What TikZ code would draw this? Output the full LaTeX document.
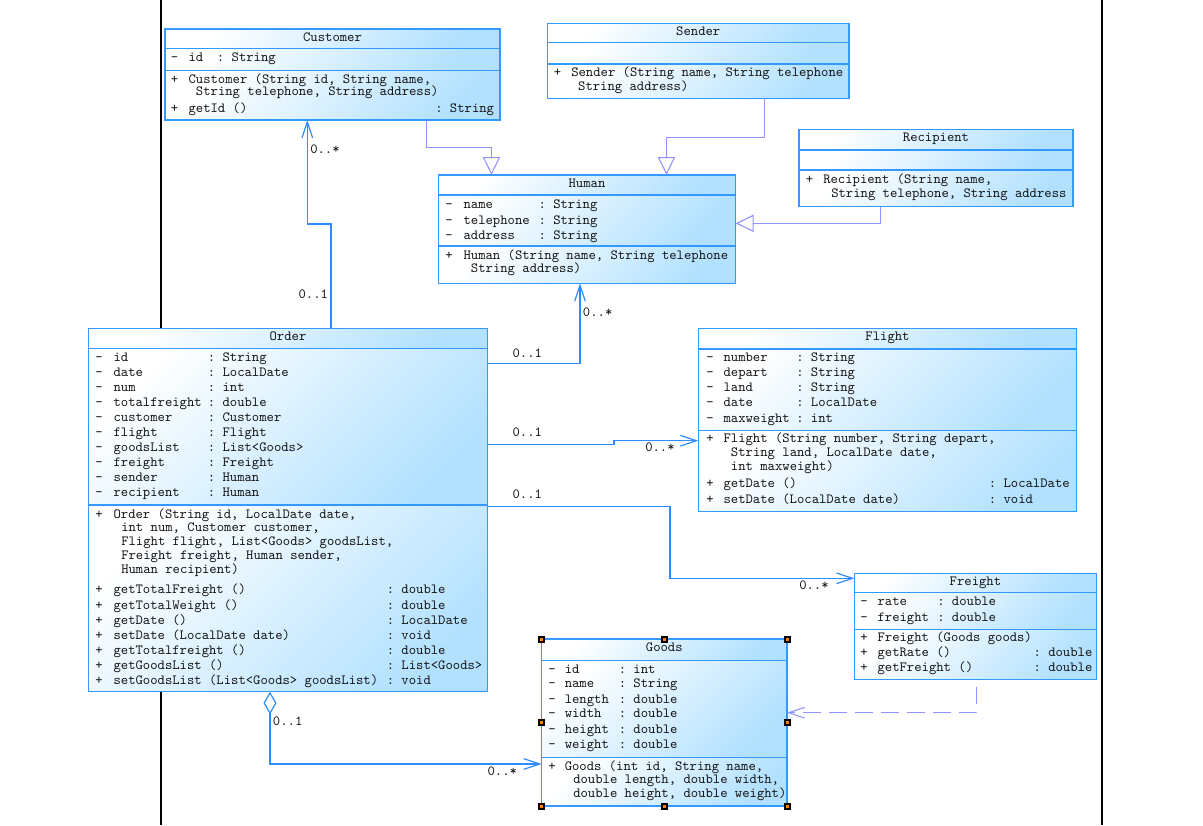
\documentclass[tikz,border=0pt]{standalone}
\usepackage{fontspec}
\usetikzlibrary{arrows.meta}
\definecolor{boxc}{RGB}{51,153,255}
\definecolor{boxfill}{RGB}{178,225,255}
\definecolor{assc}{RGB}{45,140,255}
\definecolor{genc}{RGB}{145,145,255}
\definecolor{txtc}{RGB}{20,20,20}
\definecolor{hdl}{RGB}{255,128,0}
\newcommand\mytt{\ttfamily\fontsize{10.5}{12}\selectfont\frenchspacing}
\newcounter{tn}
\newcommand\putt[3]{\stepcounter{tn}\node[txt, name=tx\arabic{tn}] at (#1,{#2+3.4}) {#3};}
\newcommand\mult[3]{\stepcounter{tn}\node[txt, name=ml\arabic{tn}] at (#1,{#2+3.4}) {#3};}
% name, x1, y1, x2, y2, sep1, sep2, title
\newcommand\umlclass[8]{%
  \shade[cshade] (#2,#3) rectangle (#4,#6);
  \shade[cshade] (#2,#6) rectangle (#4,#7);
  \shade[cshade] (#2,#7) rectangle (#4,#5);
  \draw[boxc, line width=1.1pt] (#2,#6) -- (#4,#6) (#2,#7) -- (#4,#7);
  \node[cls, minimum width={(#4-#2)*0.75pt}, minimum height={(#5-#3)*0.75pt}, name=#1] at (#2,#3) {};
  \node[ttl, name=#1-t] at ({(#2+#4)/2},{#3+9+3.4}) {#8};
}
\begin{document}
\begin{tikzpicture}[x=0.75pt,y=-0.75pt,
  txt/.style={font=\mytt, text=txtc, inner sep=0pt, anchor=base west},
  ttl/.style={font=\mytt, text=txtc, inner sep=0pt, anchor=base},
  cls/.style={draw=boxc, line width=1.1pt, inner sep=0pt, outer sep=0pt, anchor=north west},
  cshade/.style={top color=white, bottom color=boxfill, shading angle=45},
  assoc/.style={draw=assc, line width=0.9pt, -{Straight Barb[length=12pt,width=8pt]}},
  gen/.style={draw=genc, line width=0.8pt, -{Triangle[open,length=13.5pt,width=13pt]}},
  dep/.style={draw=genc, line width=0.8pt, dash pattern=on 13pt off 6.5pt, -{Straight Barb[length=12pt,width=8pt]}},
]
\fill[white] (0,0) rectangle (1203,825);
\useasboundingbox (0,0) rectangle (1203,825);
\draw[black, line width=1.1pt] (161,0) -- (161,825);
\draw[black, line width=1.1pt] (1102,0) -- (1102,825);

% ---------- classes ----------
\umlclass{customer}{165}{29}{500}{120}{48.5}{70.5}{Customer}
\putt{170.5}{58.3}{-}\putt{188.3}{58.3}{id}\putt{216.7}{58.3}{: String}
\putt{170.5}{80}{+}\putt{188.3}{80}{Customer (String id, String name,}
\putt{195.7}{91.7}{String telephone, String address)}
\putt{170.5}{109.3}{+}\putt{188.3}{109.3}{getId ()}\putt{435}{109.3}{: String}

\umlclass{sender}{547.6}{23.3}{848.9}{98.3}{42.7}{64}{Sender}
\putt{553.5}{73.3}{+}\putt{571}{73.3}{Sender (String name, String telephone}
\putt{577.9}{86.7}{String address)}

\umlclass{recipient}{799}{129.3}{1073}{206.7}{150}{170}{Recipient}
\putt{805.5}{180}{+}\putt{823}{180}{Recipient (String name,}
\putt{831}{194.3}{String telephone, String address}

\umlclass{human}{438.3}{175}{735.7}{283.3}{195}{246}{Human}
\putt{445}{205}{-}\putt{463.3}{205}{name}\putt{538.3}{205}{: String}
\putt{445}{220.7}{-}\putt{463.3}{220.7}{telephone}\putt{538.3}{220.7}{: String}
\putt{445}{235.7}{-}\putt{463.3}{235.7}{address}\putt{538.3}{235.7}{: String}
\putt{445}{256}{+}\putt{463.3}{256}{Human (String name, String telephone}
\putt{470.7}{269.3}{String address)}

\umlclass{order}{88.3}{328.3}{487.7}{691.7}{348.3}{505}{Order}
\foreach \yy/\nm/\ty in {358.3/id/String, 373.3/date/LocalDate, 388.3/num/int,
  403.3/totalfreight/double, 418.3/customer/Customer, 433.3/flight/Flight,
  448.3/goodsList/List<Goods>, 463.3/freight/Freight, 478.3/sender/Human,
  493.3/recipient/Human}{
  \putt{95}{\yy}{-}\putt{113.3}{\yy}{\nm}\putt{207.6}{\yy}{: \ty}
}
\putt{95}{515}{+}\putt{113.3}{515}{Order (String id, LocalDate date,}
\putt{121}{528.3}{int num, Customer customer,}
\putt{121}{542.3}{Flight flight, List<Goods> goodsList,}
\putt{121}{556}{Freight freight, Human sender,}
\putt{121}{570}{Human recipient)}
\foreach \yy/\nm/\ty in {590/getTotalFreight ()/double, 606/getTotalWeight ()/double,
  620.7/getDate ()/LocalDate, 636/setDate (LocalDate date)/void,
  650.7/getTotalfreight ()/double, 665.7/getGoodsList ()/List<Goods>,
  680.7/setGoodsList (List<Goods> goodsList)/void}{
  \putt{95}{\yy}{+}\putt{113.3}{\yy}{\nm}\putt{386.5}{\yy}{: \ty}
}

\umlclass{flight}{698.3}{328.3}{1076.7}{511.7}{348.8}{430.7}{Flight}
\foreach \yy/\nm/\ty in {358.3/number/String, 373.3/depart/String, 388.3/land/String,
  403.3/date/LocalDate, 419.3/maxweight/int}{
  \putt{706}{\yy}{-}\putt{723.3}{\yy}{\nm}\putt{796}{\yy}{: \ty}
}
\putt{706}{439.3}{+}\putt{723.3}{439.3}{Flight (String number, String depart,}
\putt{730.7}{453.3}{String land, LocalDate date,}
\putt{730.7}{466.7}{int maxweight)}
\putt{706}{484.3}{+}\putt{723.3}{484.3}{getDate ()}\putt{988.6}{484.3}{: LocalDate}
\putt{706}{500}{+}\putt{723.3}{500}{setDate (LocalDate date)}\putt{988.6}{500}{: void}

\umlclass{freight}{854.4}{573.3}{1096.5}{679.3}{592.7}{629.3}{Freight}
\putt{860}{601.7}{-}\putt{877.3}{601.7}{rate}\putt{937}{601.7}{: double}
\putt{860}{618.3}{-}\putt{877.3}{618.3}{freight}\putt{937}{618.3}{: double}
\putt{860}{637.7}{+}\putt{877.3}{637.7}{Freight (Goods goods)}
\putt{860}{653.3}{+}\putt{877.3}{653.3}{getRate ()}\putt{1033.3}{653.3}{: double}
\putt{860}{668.3}{+}\putt{877.3}{668.3}{getFreight ()}\putt{1033.3}{668.3}{: double}

\umlclass{goods}{541.6}{639}{787}{806}{660.7}{757.3}{Goods}
\foreach \yy/\nm/\ty in {670/id/int, 684.3/name/String, 700/length/double,
  714.3/width/double, 730/height/double, 745/weight/double}{
  \putt{548}{\yy}{-}\putt{564.5}{\yy}{\nm}\putt{618.5}{\yy}{: \ty}
}
\putt{548}{766.7}{+}\putt{564.5}{766.7}{Goods (int id, String name,}
\putt{573}{780}{double length, double width,}
\putt{573}{793.7}{double height, double weight)}

% selection handles on Goods
\foreach \hx/\hy in {541.6/639, 664.3/639, 787/639, 541.6/722.5, 787/722.5,
  541.6/806, 664.3/806, 787/806}{
  \fill[black] ({\hx-3.5},{\hy-3.5}) rectangle ({\hx+3.5},{\hy+3.5});
  \fill[hdl] ({\hx-1.5},{\hy-1.5}) rectangle ({\hx+1.5},{\hy+1.5});
}

% ---------- bend points ----------
\coordinate (c1) at (331,224);
\coordinate (c2) at (307.3,224);
\coordinate (h1) at (580,363.3);
\coordinate (f1) at (614,444.3);
\coordinate (f2) at (614,440.7);
\coordinate (r1) at (670,506.7);
\coordinate (r2) at (670,578.3);
\coordinate (g1) at (270,764);
\coordinate (k1) at (426.7,147.7);
\coordinate (k2) at (491.5,147.7);
\coordinate (s1) at (764.5,137.7);
\coordinate (s2) at (666.5,137.7);
\coordinate (q1) at (880.7,223.3);
\coordinate (d1) at (976.5,712.7);

% ---------- associations ----------
\draw[assoc] (order.north -| c1) -- (c1) -- (c2) -- (customer.south -| c2);
\draw[assoc] (order.east |- h1) -- (h1) -- (human.south -| h1);
\draw[assoc] (order.east |- f1) -- (f1) -- (f2) -- (flight.west |- f2);
\draw[assoc] (order.east |- r1) -- (r1) -- (r2) -- (freight.west |- r2);
\draw[assoc, {Diamond[open,length=17pt,width=9.75pt]}-{Straight Barb[length=12pt,width=8pt]}]
  (order.south -| g1) -- (g1) -- (goods.west |- g1);

% ---------- generalizations ----------
\draw[gen] (customer.south -| k1) -- (k1) -- (k2) -- (human.north -| k2);
\draw[gen] (sender.south -| s1) -- (s1) -- (s2) -- (human.north -| s2);
\draw[gen] (recipient.south -| q1) -- (q1) -- (human.east |- q1);

% ---------- dependency ----------
\draw[dep, shorten <=5.5pt] (freight.south -| d1) -- (d1) -- (goods.east |- d1);

% ---------- multiplicities ----------
\mult{310}{150}{0..*}
\mult{298.3}{295}{0..1}
\mult{512.3}{354}{0..1}
\mult{582.7}{312.7}{0..*}
\mult{512.3}{432.7}{0..1}
\mult{645}{448.3}{0..*}
\mult{512.3}{495}{0..1}
\mult{799}{585.7}{0..*}
\mult{272.7}{721.7}{0..1}
\mult{487.3}{771.7}{0..*}
\end{tikzpicture}
\end{document}
